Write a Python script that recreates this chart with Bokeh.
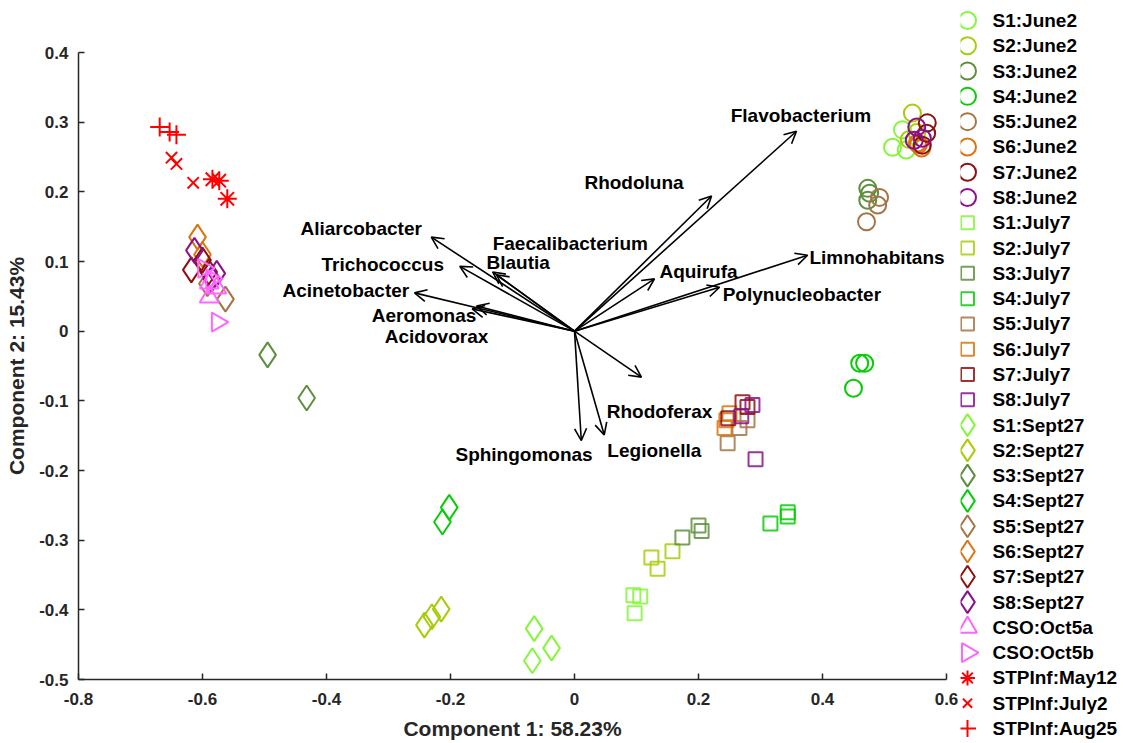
import numpy as np
from bokeh.plotting import figure
from bokeh.layouts import row
from bokeh.models import Range1d, FixedTicker, Arrow, OpenHead, ColumnDataSource
from bokeh.core.properties import value
from bokeh.embed import file_html
from bokeh.resources import INLINE

FONT = "Liberation Sans"

# ---------------- data ----------------
sites = ["S1", "S2", "S3", "S4", "S5", "S6", "S7", "S8"]
site_colors = ["#86f53c", "#a8cc0a", "#5f8f3e", "#08cc08", "#a47445", "#db7410", "#8e0f0f", "#8c108c"]

june2_x = [[0.513, 0.529, 0.535], [0.545, 0.552, 0.540], [0.473, 0.476, 0.473], [0.460, 0.468, 0.450],
           [0.492, 0.489, 0.471], [0.560, 0.555, 0.553], [0.569, 0.568, 0.561], [0.552, 0.548, 0.561]]
june2_y = [[0.264, 0.289, 0.260], [0.313, 0.285, 0.275], [0.205, 0.198, 0.188], [-0.046, -0.046, -0.082],
           [0.192, 0.181, 0.157], [0.263, 0.268, 0.270], [0.299, 0.284, 0.267], [0.293, 0.274, 0.277]]

july7_x = [[0.095, 0.106, 0.097], [0.124, 0.134, 0.158], [0.174, 0.200, 0.205], [0.316, 0.344, 0.344],
           [0.279, 0.266, 0.247], [0.250, 0.245, 0.242], [0.271, 0.279, 0.248], [0.287, 0.269, 0.292]]
july7_y = [[-0.379, -0.381, -0.405], [-0.325, -0.341, -0.316], [-0.296, -0.279, -0.287], [-0.276, -0.266, -0.260],
           [-0.128, -0.139, -0.161], [-0.118, -0.128, -0.139], [-0.102, -0.109, -0.125], [-0.106, -0.122, -0.184]]

sept27_x = [[-0.065, -0.037, -0.068], [-0.215, -0.230, -0.242], [-0.495, -0.432], [-0.202, -0.213],
            [-0.563, -0.592], [-0.608, -0.600], [-0.618, -0.600, -0.590], [-0.613, -0.577, -0.585]]
sept27_y = [[-0.427, -0.455, -0.473], [-0.399, -0.410, -0.422], [-0.034, -0.096], [-0.253, -0.274],
            [0.046, 0.068], [0.135, 0.110], [0.088, 0.102, 0.085], [0.116, 0.083, 0.075]]

cso_a_x = [-0.589, -0.589, -0.577]
cso_a_y = [0.069, 0.049, 0.062]
cso_b_x = [-0.576, -0.598, -0.585]
cso_b_y = [0.013, 0.090, 0.075]

stp_may_x = [-0.584, -0.573, -0.560]
stp_may_y = [0.218, 0.216, 0.190]
stp_jul_x = [-0.650, -0.642, -0.615]
stp_jul_y = [0.249, 0.240, 0.213]
stp_aug_x = [-0.669, -0.653, -0.642]
stp_aug_y = [0.293, 0.286, 0.282]

taxa = ["Flavobacterium", "Rhodoluna", "Faecalibacterium", "Blautia", "Aliarcobacter", "Trichococcus",
        "Acinetobacter", "Aeromonas", "Acidovorax", "Aquirufa", "Polynucleobacter", "Limnohabitans",
        "Rhodoferax", "Legionella", "Sphingomonas"]
load_x = [0.358, 0.221, -0.126, -0.132, -0.231, -0.185, -0.258, -0.158, -0.165, 0.129, 0.234, 0.376,
          0.108, 0.048, 0.011]
load_y = [0.287, 0.194, 0.081, 0.085, 0.135, 0.093, 0.055, 0.036, 0.032, 0.075, 0.063, 0.109,
          -0.066, -0.149, -0.157]
label_x = [0.252, 0.016, -0.132, -0.142, -0.442, -0.408, -0.471, -0.327, -0.306, 0.137, 0.239, 0.379,
           0.052, 0.053, -0.192]
label_y = [0.309, 0.213, 0.126, 0.099, 0.148, 0.096, 0.059, 0.023, -0.007, 0.086, 0.052, 0.106,
           -0.115, -0.171, -0.177]

x_ticks = [-0.8, -0.6, -0.4, -0.2, 0, 0.2, 0.4, 0.6]
x_tick_labels = ["-0.8", "-0.6", "-0.4", "-0.2", "0", "0.2", "0.4", "0.6"]
y_ticks = [-0.5, -0.4, -0.3, -0.2, -0.1, 0, 0.1, 0.2, 0.3, 0.4]
y_tick_labels = ["-0.5", "-0.4", "-0.3", "-0.2", "-0.1", "0", "0.1", "0.2", "0.3", "0.4"]

# ---------------- main figure ----------------
p = figure(frame_width=868, frame_height=627,
           min_border_left=78, min_border_top=52, min_border_right=14, min_border_bottom=63,
           x_range=Range1d(-0.8, 0.6), y_range=Range1d(-0.5, 0.4),
           output_backend="svg", toolbar_location=None)
p.outline_line_color = None
p.xgrid.visible = False
p.ygrid.visible = False
p.background_fill_color = "white"
p.border_fill_color = "white"

for ax, ticks, labels in ((p.xaxis[0], x_ticks, x_tick_labels), (p.yaxis[0], y_ticks, y_tick_labels)):
    ax.ticker = FixedTicker(ticks=ticks)
    ax.major_label_overrides = {t: l for t, l in zip(ticks, labels)}
    ax.minor_tick_line_color = None
    ax.major_tick_in = 6
    ax.major_tick_out = 0
    ax.axis_line_color = "#262626"
    ax.axis_line_width = 1.5
    ax.major_tick_line_color = "#262626"
    ax.major_tick_line_width = 1.5
    ax.major_label_text_font = FONT
    ax.major_label_text_font_style = "bold"
    ax.major_label_text_font_size = "17px"
    ax.major_label_text_color = "#262626"
    ax.axis_label_text_font = FONT
    ax.axis_label_text_font_style = "bold"
    ax.axis_label_text_font_size = "21px"
    ax.axis_label_text_color = "#262626"

p.xaxis.axis_label = "Component 1: 58.23%"
p.yaxis.axis_label = "Component 2: 15.43%"
p.xaxis.major_label_standoff = 13
p.yaxis.major_label_standoff = 10
p.xaxis.axis_label_standoff = 9
p.yaxis.axis_label_standoff = 8

# biplot vectors
asrc = ColumnDataSource(dict(x0=[0.0] * len(load_x), y0=[0.0] * len(load_y), x1=load_x, y1=load_y))
p.add_layout(Arrow(end=OpenHead(size=12, line_width=1.6, line_color="black"),
                   x_start="x0", y_start="y0", x_end="x1", y_end="y1", source=asrc,
                   line_color="black", line_width=1.6))
p.text(x=label_x, y=label_y, text=taxa, text_font=value(FONT), text_font_style="bold",
       text_font_size="19px", text_color="black", text_align="left", text_baseline="middle")

# points
LW = 2
series = []  # (label, marker, size, angle, color, xs, ys, alpha)
for i, s in enumerate(sites):
    series.append((f"{s}:June2", "circle", 17, 0.0, site_colors[i], june2_x[i], june2_y[i], 1.0))
for i, s in enumerate(sites):
    series.append((f"{s}:July7", "square", 14, 0.0, site_colors[i], july7_x[i], july7_y[i], 0.85))
for i, s in enumerate(sites):
    series.append((f"{s}:Sept27", "diamond", 25, 0.0, site_colors[i], sept27_x[i], sept27_y[i], 1.0))
series.append(("CSO:Oct5a", "triangle", 19, 0.0, "#ff66ff", cso_a_x, cso_a_y, 1.0))
series.append(("CSO:Oct5b", "triangle", 19, -np.pi / 2, "#ff66ff", cso_b_x, cso_b_y, 1.0))
series.append(("STPInf:May12", "asterisk", 19, 0.0, "#ff0000", stp_may_x, stp_may_y, 1.0))
series.append(("STPInf:July2", "x", 16, 0.0, "#ff0000", stp_jul_x, stp_jul_y, 1.0))
series.append(("STPInf:Aug25", "cross", 19, 0.0, "#ff0000", stp_aug_x, stp_aug_y, 1.0))

for lab, mk, sz, ang, col, xs, ys, al in series:
    p.scatter(xs, ys, marker=mk, size=sz, angle=ang, fill_color=None,
              line_color=col, line_width=LW, line_alpha=al)

# ---------------- legend panel (separate figure, pixel-like units) ----------------
LEG_W, LEG_H = 163, 743
leg = figure(frame_width=LEG_W, frame_height=LEG_H, x_range=Range1d(0, LEG_W), y_range=Range1d(LEG_H, 0),
             min_border=0, min_border_left=0, min_border_right=0, min_border_top=0, min_border_bottom=0,
             x_axis_location=None, y_axis_location=None,
             output_backend="svg", toolbar_location=None)
if "frame_align" in leg.properties():
    leg.frame_align = False
leg.outline_line_color = None
leg.xgrid.visible = False
leg.ygrid.visible = False
leg.background_fill_color = "white"
leg.border_fill_color = "white"

n = len(series)
row_y = [20 + k * (708 / (n - 1)) for k in range(n)]
leg_size = {"circle": 17, "square": 13, "diamond": 22, "triangle": 19, "asterisk": 15, "x": 13, "cross": 17}
for k, (lab, mk, sz, ang, col, xs, ys, al) in enumerate(series):
    leg.scatter([7], [row_y[k]], marker=mk, size=leg_size[mk], angle=ang, fill_color=None,
                line_color=col, line_width=LW, line_alpha=al)
leg.text(x=[32] * n, y=row_y, text=[s[0] for s in series], text_font=value(FONT),
         text_font_style="bold", text_font_size="19px", text_color="black",
         text_align="left", text_baseline="middle")

layout = row(p, leg, spacing=0)
open("out.html", "w").write(file_html(layout, INLINE))
